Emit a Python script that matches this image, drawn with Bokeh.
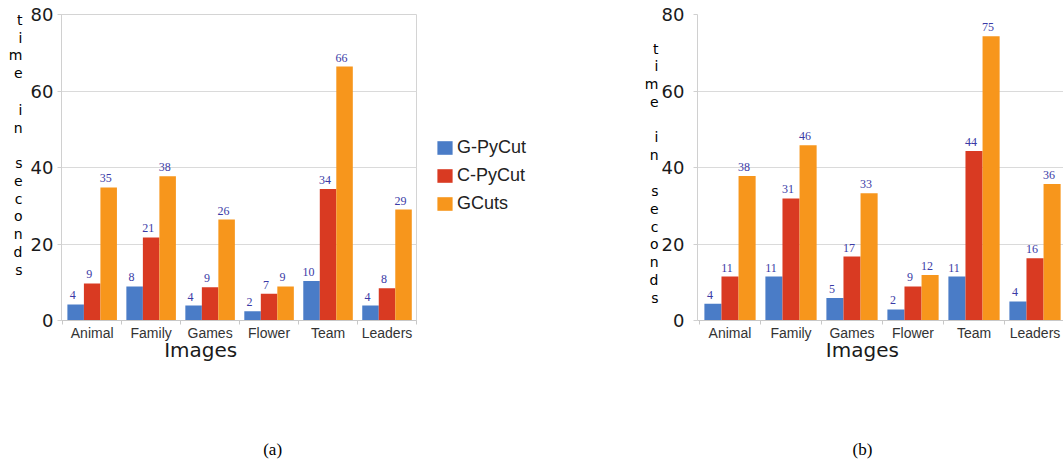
from bokeh.plotting import figure
from bokeh.models import Range1d, FixedTicker, Legend, LegendItem, ColumnDataSource, LinearAxis
from bokeh.layouts import row
from bokeh.embed import file_html
from bokeh.resources import INLINE
from bokeh.core.properties import value

categories = ["Animal", "Family", "Games", "Flower", "Team", "Leaders"]
series = ["G-PyCut", "C-PyCut", "GCuts"]
colors = ["#4a7cc7", "#d93a22", "#f7961c"]
y_ticks = [0, 20, 40, 60, 80]

a_gpycut = [4.2, 8.9, 3.9, 2.4, 10.3, 3.9]
a_cpycut = [9.7, 21.7, 8.7, 7.0, 34.4, 8.4]
a_gcuts = [34.8, 37.7, 26.4, 8.9, 66.4, 29.0]
a_gpycut_lab = ["4", "8", "4", "2", "10", "4"]
a_cpycut_lab = ["9", "21", "9", "7", "34", "8"]
a_gcuts_lab = ["35", "38", "26", "9", "66", "29"]

# panel (b)
b_gpycut = [4.4, 11.5, 5.9, 2.9, 11.5, 5.0]
b_cpycut = [11.5, 31.9, 16.7, 8.9, 44.3, 16.3]
b_gcuts = [37.8, 45.8, 33.3, 11.9, 74.3, 35.7]
b_gpycut_lab = ["4", "11", "5", "2", "11", "4"]
b_cpycut_lab = ["11", "31", "17", "9", "44", "16"]
b_gcuts_lab = ["38", "46", "33", "12", "75", "36"]

y_title = "time in seconds"
x_title = "Images"

offsets = [-0.28, 0.0, 0.28]
BAR_W = 0.28
H = 463


def text_axis(p, side, pos, txt, font, size, standoff, color, line_height=None):
    ax = LinearAxis(ticker=FixedTicker(ticks=list(pos)),
                    major_label_overrides=dict(zip(pos, txt)))
    ax.axis_line_color = None
    ax.major_tick_line_color = None
    ax.minor_tick_line_color = None
    ax.major_tick_in = 0
    ax.major_tick_out = 0
    ax.minor_tick_in = 0
    ax.minor_tick_out = 0
    ax.major_label_standoff = standoff
    ax.major_label_text_font = font
    ax.major_label_text_font_size = size
    ax.major_label_text_color = color
    if line_height is not None:
        ax.major_label_text_line_height = line_height
    p.add_layout(ax, side)
    return ax


def make_panel(width, xr, bl, br, bb, groups, labels, outline, word_pos, word_std,
               tick_std, xt_pos, cap_text, cap_pos):
    p = figure(width=width, height=H, x_range=Range1d(*xr), y_range=Range1d(0, 80),
               output_backend="svg", toolbar_location=None,
               min_border_left=bl, min_border_right=br, min_border_top=14, min_border_bottom=bb)
    p.background_fill_color = "white"
    p.border_fill_color = "white"
    p.outline_line_color = "#d4d4d4" if outline else None
    renderers = []
    for k, (vals, labs) in enumerate(zip(groups, labels)):
        xs = [i + offsets[k] for i in range(len(categories))]
        src = ColumnDataSource(dict(x=xs, top=vals, lab=labs))
        r = p.vbar(x="x", top="top", width=BAR_W, color=colors[k], line_color=None, source=src)
        renderers.append(r)
        p.text(x="x", y="top", text="lab", source=src, text_align="center",
               text_baseline="alphabetic", x_offset=-3, y_offset=-9,
               text_font=value("Liberation Serif"), text_font_size="12px",
               text_color="#3a3aa6")
    p.xgrid.grid_line_color = None
    p.ygrid.grid_line_color = "#dadada"
    p.ygrid.ticker = FixedTicker(ticks=y_ticks)

    xa = p.xaxis[0]
    xa.ticker = FixedTicker(ticks=list(range(len(categories))),
                            minor_ticks=[i - 0.5 for i in range(len(categories) + 1)])
    xa.major_label_overrides = {i: c for i, c in enumerate(categories)}
    xa.major_tick_line_color = None
    xa.minor_tick_in = 0
    xa.minor_tick_out = 4
    xa.minor_tick_line_color = "#c8c8c8"
    xa.axis_line_color = "#c8c8c8"
    xa.major_label_text_font = "Liberation Sans"
    xa.major_label_text_font_size = "14px"
    xa.major_label_text_color = "#333333"
    xa.major_label_standoff = -2

    ya = p.yaxis[0]
    ya.ticker = FixedTicker(ticks=y_ticks)
    ya.major_tick_in = 0
    ya.major_tick_out = 4
    ya.major_tick_line_color = "#d0d0d0"
    ya.minor_tick_line_color = None
    ya.axis_line_color = "#d0d0d0"
    ya.major_label_text_font = "DejaVu Sans"
    ya.major_label_text_font_size = "18px"
    ya.major_label_text_color = "#1a1a1a"
    ya.major_label_standoff = tick_std

    # y-axis title: each word written as a column of letters
    words = ["\n".join(w) for w in y_title.split()]
    text_axis(p, "left", word_pos, words, "DejaVu Sans", "14px", word_std, "black", 1.107)
    # x-axis title and the panel caption
    text_axis(p, "below", [xt_pos], [x_title], "DejaVu Sans", "20px", -6, "#1a1a1a")
    text_axis(p, "below", [cap_pos], [cap_text], "Liberation Serif", "17px", 75, "black")
    return p, renderers


# panel (a): page x 0..430
pA, rA = make_panel(430, (-0.52, 5.5), 61, 14, 143,
                    [a_gpycut, a_cpycut, a_gcuts],
                    [a_gpycut_lab, a_cpycut_lab, a_gcuts_lab],
                    True, [71.6, 52.7, 27.2], 5, 4, 1.84, "(a)", 3.06)

# legend panel: page x 430..600
lf = figure(width=170, height=H, x_range=Range1d(-3, -2), y_range=Range1d(0, 80),
            output_backend="svg", toolbar_location=None, min_border=0,
            min_border_top=14, min_border_bottom=143,
            x_axis_location=None, y_axis_location=None)
lf.outline_line_color = None
lf.xgrid.grid_line_color = None
lf.ygrid.grid_line_color = None
lrs = [lf.vbar(x=list(range(len(categories))), top=vals, width=BAR_W, color=c, line_color=None)
       for vals, c in zip([a_gpycut, a_cpycut, a_gcuts], colors)]
legend = Legend(items=[LegendItem(label=s, renderers=[r]) for s, r in zip(series, lrs)],
                location=(5, 106), orientation="vertical")
legend.glyph_width = 19
legend.glyph_height = 17
legend.label_height = 17
legend.label_standoff = 3
legend.spacing = 7
legend.padding = 0
legend.margin = 0
legend.border_line_color = None
legend.background_fill_alpha = 0
legend.label_text_font = "Liberation Sans"
legend.label_text_font_size = "18px"
legend.label_text_color = "#222222"
lf.add_layout(legend, "center")

# panel (b): page x 600..1063
pB, rB = make_panel(463, (-0.533, 5.467), 97, 0, 142,
                    [b_gpycut, b_cpycut, b_gcuts],
                    [b_gpycut_lab, b_cpycut_lab, b_gcuts_lab],
                    False, [64.1, 45.6, 19.9], 0, 9, 2.17, "(b)", 2.17)

layout = row(pA, lf, pB)
open("out.html", "w").write(file_html(layout, INLINE))
